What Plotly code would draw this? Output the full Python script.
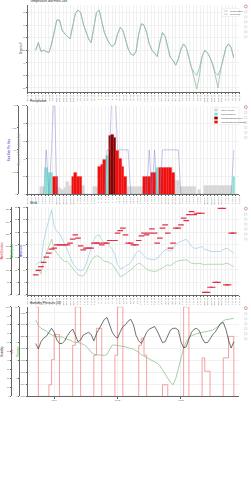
import plotly.graph_objects as go
import pandas as pd

W, H = 251, 500
START = pd.Timestamp("2024-10-07 18:00")
HOURS = list(range(9, 235, 3))

TEMP = [50,56,49,50,49,48,55,66,74,74, 66,63,61,59,69,79,82,80,71,65,
        59,56,68,80,82,74,64,59,55,53, 55,63,68,66,59,51,47,46,49,63,
        71,70,64,55,50,47,45,56,64,61, 52,44,42,38,43,51,55,52,44,36,
        32,30,36,45,50,48,44,39,32,30, 35,44,52,55,52,44]
FEELS = [50,56,49,50,49,48,55,66,74,74, 66,63,61,59,69,79,82,80,71,65,
         59,56,68,80,82,74,64,59,55,53, 55,63,68,66,59,51,47,46,49,63,
         71,70,64,55,50,47,45,56,64,61, 52,44,42,38,43,51,55,52,44,35,
         27,19,30,45,50,48,44,38,30,20, 34,44,52,55,52,44]

PRECIP_CHANCE = [0,0,9,9,30,24,24,20,20,8, 5,8,14,10,20,24,20,20,10,0,
                 0,0,9,9,31,34,39,44,66,67, 64,49,40,31,20,9,9,9,9,9,
                 9,20,20,20,24,24,30,30,30,30, 30,30,24,15,15,9,9,9,9,9,
                 9,0,5,0,10,10,10,10,10,10, 10,10,10,10,10,20]
PRECIP_TYPE = ["", "", "G","G","C","C","C","R","R","G",
               "G","G","G","G","R","R","R","R","G","",
               "", "", "G","G","R","R","R","C","D","D",
               "D","R","R","R","R","G","G","G","G","G",
               "G","R","R","R","R","R","C","R","R","R",
               "R","R","R","G","G","G","G","G","G","G",
               "G","", "G","", "G","G","G","G","G","G",
               "G","G","G","G","G","C"]
RAIN_RATE = [0,0,0,0,0.1,0,0.1,0.25,0,0, 0,0,0,0,0,0,0,0,0,0,
             0,0,0,0,0,0,0,0.1,0.1,0.25, 0.25,0.1,0.1,0.1,0.1,0.1,0,0,0,0,
             0,0,0,0.1,0,0.1,0,0,0.1,0.1, 0.1,0.1,0.1,0.1,0.1,0,0,0,0,0,
             0,0,0,0,0,0,0,0,0,0, 0,0,0,0,0,0.1]
TYPE_CODES = ["G", "C", "D", "R"]
TYPE_NAMES = ["Partly Cloudy", "Rain Showers", "Thunderstorms Likely", "Thunderstorms Possible"]
TYPE_COLORS = ["#d6d6d6", "#7fe3d2", "#8b0000", "#f01010"]

WIND_GUST = [12.0,12.9,12.9,21.3,26.0,30.6,33.9,27.3,25.3,24.6,
             22.6,20.0,18.0,15.3,12.6,11.3,10.0,9.7,10.0,12.0,
             15.3,19.3,22.0,23.6,24.0,22.0,20.6,20.6,19.6,18.2,
             16.0,12.0,10.6,10.6,11.6,12.0,12.9,15.0,16.6,17.7,
             16.9,15.6,14.6,14.2,14.2,14.0,14.6,15.6,16.6,18.0,
             18.0,17.3,18.6,20.0,20.9,21.3,21.7,22.2,20.9,19.3,
             18.6,18.6,19.0,19.3,18.0,18.0,17.3,17.3,17.3,17.3,
             17.3,18.0,18.6,18.2,17.3,16.6]
WIND_SPEED = [9.3,10.2,8.4,13.3,16.6,19.3,22.2,18.2,16.6,15.3,
              14.0,13.3,13.3,12.0,10.6,9.3,8.0,7.6,7.6,8.9,
              11.3,13.6,15.0,15.6,15.3,14.4,13.3,13.3,12.9,12.2,
              10.6,8.7,7.3,7.6,8.4,9.3,10.0,10.9,12.0,12.6,
              12.2,11.0,10.2,9.7,9.6,9.3,9.6,10.2,10.9,11.6,
              12.0,11.6,12.4,13.2,13.6,13.7,13.7,14.0,13.3,12.6,
              12.5,12.4,12.6,12.4,12.0,12.2,12.2,12.0,12.0,12.0,
              12.0,12.2,12.6,12.4,11.8,11.3]
WIND_DIR = [82,100,116,133,155,171,188,192,205,205,
            205,205,205,212,229,246,233,201,185,192,
            192,192,212,212,212,205,212,212,223,223,
            223,253,264,274,246,212,212,205,205,223,
            242,253,246,253,271,253,212,233,274,287,
            253,192,212,274,274,287,315,305,329,342,
            329,335,335,335,10,10,31,31,51,51,
            355,355,41,41,253,253]

HUMIDITY = [59,53,61,65,67,71.5,76,71.5,63,59,
            59,62,68,72,75,68.5,61,63,68.5,70,
            71.5,69,62,70,75,81.5,86,88,80,71.5,
            67,65,72,78,80,84,86,80,68,62,
            59,65.5,71.5,75,77,78,73,65.5,60,61,
            68.5,74,76,76,74,61,54,55.5,64,71.5,
            75,76,73,65,60,60,64,69,72,77,
            81.5,82.5,75,63,54,61]
PRESSURE = [1025.6,1023.7,1022.8,1022.3,1021.9,1021.1,1020.6,1020.2,1020.0,1020.0,
            1019.9,1019.4,1019.2,1018.8,1018.3,1018.0,1018.1,1017.8,1017.4,1016.9,
            1015.9,1014.8,1014.2,1013.9,1013.9,1013.8,1013.7,1014.1,1015.6,1017.2,
            1017.2,1017.1,1017.0,1016.8,1016.6,1016.3,1016.1,1015.8,1015.3,1014.8,
            1013.9,1013.4,1013.0,1012.4,1012.0,1011.6,1011.1,1010.3,1008.9,1007.2,
            1005.9,1004.7,1003.9,1005.9,1009.2,1012.8,1016.1,1018.3,1019.7,1020.3,
            1020.7,1021.0,1021.2,1021.4,1021.7,1021.7,1021.9,1022.2,1022.8,1023.3,
            1024.4,1025.3,1025.7,1025.9,1025.9,1026.1]
UV = [10,0,0,0,0,1.3,4.1,6.9,6.9,0,
      0,0,0,0,5.7,10,10,0,0,0,
      0,0,4.6,7.6,7.6,0,0,0,0,0,
      4.6,10,10,0,0,0,0,0,0,5.7,
      6.5,4.6,0,0,0,0,0,0,1.3,1.3,
      0,0,0,0,0,0,10,10,0,0,
      0,0,0,4.3,2.8,2.8,0,0,0,0,
      0,4.3,4.3,6.7,6.7,0]

times = [START + pd.Timedelta(hours=h) for h in HOURS]
x_range = [START, START + pd.Timedelta(hours=240)]
BAR_W = 3 * 3600 * 1000

def px(x):
    return x / W

def py(y):
    return 1 - y / H

PANELS = [(4, 91), (105, 194), (207, 295), (307, 397)]
XDOM = [px(27), px(240)]
FONT = "Liberation Sans"
GRID = "#f0f0f0"
AX = "#666"

fig = go.Figure()

# Panel 1: temperature
fig.add_trace(go.Scatter(x=times, y=TEMP, mode="lines", name="Temperature",
                         line=dict(color="#8fb3cf", width=0.8), xaxis="x", yaxis="y"))
fig.add_trace(go.Scatter(x=times, y=FEELS, mode="lines", name="Feels Like",
                         line=dict(color="#9cbf9c", width=0.8), xaxis="x", yaxis="y"))

# Panel 2: precipitation
for code, name, color in zip(TYPE_CODES, TYPE_NAMES, TYPE_COLORS):
    xs = [t for t, c in zip(times, PRECIP_TYPE) if c == code]
    ys = [v for v, c in zip(PRECIP_CHANCE, PRECIP_TYPE) if c == code]
    fig.add_trace(go.Bar(x=xs, y=ys, name=name, width=BAR_W,
                         marker=dict(color=color, line=dict(width=0.2, color=color)),
                         xaxis="x2", yaxis="y2"))
fig.add_trace(go.Scatter(x=times, y=RAIN_RATE, mode="lines", name="Rain Rate",
                         line=dict(color="rgba(120,120,200,0.6)", width=0.7),
                         xaxis="x2", yaxis="y3"))

# Panel 3: wind
fig.add_trace(go.Scatter(x=times, y=WIND_GUST, mode="lines", name="Gust",
                         line=dict(color="#a8d0e6", width=0.8), xaxis="x3", yaxis="y4"))
fig.add_trace(go.Scatter(x=times, y=WIND_SPEED, mode="lines", name="Speed",
                         line=dict(color="#a6cfa6", width=0.8), xaxis="x3", yaxis="y5"))
fig.add_trace(go.Scatter(x=times, y=WIND_DIR, mode="markers", name="Direction",
                         marker=dict(symbol="line-ew", size=4, line=dict(color="#e0304a", width=1.2)),
                         xaxis="x3", yaxis="y6"))

# Panel 4: humidity, pressure, UV
fig.add_trace(go.Scatter(x=times, y=PRESSURE, mode="lines", name="Pressure",
                         line=dict(color="#8cc48c", width=0.8), xaxis="x4", yaxis="y7"))
fig.add_trace(go.Scatter(x=times, y=UV, mode="lines", name="UV Index", line_shape="hv",
                         line=dict(color="#f08a8a", width=0.8), xaxis="x4", yaxis="y8"))
fig.add_trace(go.Scatter(x=times, y=HUMIDITY, mode="lines", name="Humidity",
                         line=dict(color="#333333", width=0.7), xaxis="x4", yaxis="y9"))

def xaxis(anchor, fmt, dtick, tick0, angle, match=None):
    d = dict(type="date", domain=XDOM, range=x_range, anchor=anchor,
             showgrid=True, gridcolor=GRID, gridwidth=0.5,
             showline=True, linecolor=AX, linewidth=0.5,
             ticks="outside", ticklen=1.5, tickwidth=0.4, tickcolor=AX,
             tickformat=fmt, dtick=dtick, tick0=tick0, tickangle=angle,
             tickfont=dict(size=2.2, family=FONT, color="#555"), zeroline=False)
    if match:
        d["matches"] = match
    return d

def yaxis(dom, rng, dtick, title, color, grid=True, pos=None, overlay=None, anchor=None):
    d = dict(domain=[py(dom[1]), py(dom[0])], range=rng, dtick=dtick,
             showgrid=grid, gridcolor=GRID, gridwidth=0.5, zeroline=False,
             showline=True, linecolor=AX, linewidth=0.5,
             ticks="outside", ticklen=1.2, tickwidth=0.4, tickcolor=AX,
             tickfont=dict(size=2.2, family=FONT, color="#555"),
             title=dict(text=title, font=dict(size=2.6, family=FONT, color=color), standoff=1))
    if pos is not None:
        d["anchor"] = "free"
        d["position"] = pos
        d["side"] = "left"
    else:
        d["anchor"] = anchor
    if overlay:
        d["overlaying"] = overlay
    return d

H4 = 4 * 3600 * 1000
fig.update_layout(
    xaxis=xaxis("y", "%a %H", H4, START, -90),
    xaxis2=xaxis("y2", "%a %H", H4, START, -90, "x"),
    xaxis3=xaxis("y4", "%a %H", H4, START, -90, "x"),
    xaxis4=xaxis("y7", "%m/%d", 3 * 86400000, "2024-10-09", 0, "x"),
    yaxis=yaxis(PANELS[0], [17, 86], 10, "Degrees F", "#444", anchor="x"),
    yaxis2=yaxis(PANELS[1], [0, 100], 20, "Chance of Precipitation (%)", "#999", anchor="x2"),
    yaxis3=yaxis(PANELS[1], [0, 0.2], 0.05, "Rain Rate Per Hour", "#3333cc", grid=False, pos=px(17), overlay="y2"),
    yaxis4=yaxis(PANELS[2], [0, 35], 5, "Wind Gust", "#3333cc", anchor="x3"),
    yaxis5=yaxis(PANELS[2], [0, 35], 5, "Wind Speed", "#22aa22", grid=False, pos=px(18), overlay="y4"),
    yaxis6=yaxis(PANELS[2], [0, 360], 50, "Wind Direction", "#dd2222", grid=False, pos=px(10), overlay="y4"),
    yaxis7=yaxis(PANELS[3], [1000, 1030], 4, "Pressure", "#22aa22", anchor="x4"),
    yaxis8=yaxis(PANELS[3], [0, 10], 2, "UV", "#dd2222", grid=False, pos=px(18), overlay="y7"),
    yaxis9=yaxis(PANELS[3], [0, 100], 10, "Humidity", "#222", grid=False, pos=px(10), overlay="y7"),
    width=W, height=H, margin=dict(l=0, r=0, t=0, b=0),
    paper_bgcolor="white", plot_bgcolor="white", showlegend=False,
    barmode="overlay", bargap=0,
    font=dict(family=FONT, size=3, color="#444"),
)

# panel titles
TITLES = ["Temperature and Feels Like", "Precipitation", "Wind", "Humidity, Pressure, UV"]
for (top, _), title in zip(PANELS, TITLES):
    fig.add_annotation(text=title, xref="paper", yref="paper", x=px(27), y=py(top - 0.2),
                       xanchor="left", yanchor="bottom", showarrow=False,
                       font=dict(size=3, family=FONT, color="#222"))

shapes = []
def legend_box(x0, y0, x1, y1):
    shapes.append(dict(type="rect", xref="paper", yref="paper", x0=px(x0), x1=px(x1),
                       y0=py(y1), y1=py(y0), fillcolor="white", line=dict(color="#e5e5e5", width=0.5)))

legend_box(223, 7.5, 240, 15.5)
for i, (nm, col) in enumerate([("Temperature", "#8fb3cf"), ("Feels Like", "#9cbf9c")]):
    yy = 10 + i * 3.3
    shapes.append(dict(type="line", xref="paper", yref="paper", x0=px(225), x1=px(228.5),
                       y0=py(yy), y1=py(yy), line=dict(color=col, width=0.7)))
    fig.add_annotation(text=nm, xref="paper", yref="paper", x=px(229.3), y=py(yy),
                       xanchor="left", yanchor="middle", showarrow=False,
                       font=dict(size=2.3, family=FONT, color="#444"))

legend_box(213, 107, 240, 124)
for i, (nm, col) in enumerate(zip(TYPE_NAMES, TYPE_COLORS)):
    yy = 109.5 + i * 4
    shapes.append(dict(type="rect", xref="paper", yref="paper", x0=px(215), x1=px(218.5),
                       y0=py(yy + 1.4), y1=py(yy - 1.4), fillcolor=col, line=dict(width=0)))
    fig.add_annotation(text=nm, xref="paper", yref="paper", x=px(219.3), y=py(yy),
                       xanchor="left", yanchor="middle", showarrow=False,
                       font=dict(size=2.3, family=FONT, color="#444"))

# toolbar decorations at the right of each panel
for top, _ in PANELS:
    shapes.append(dict(type="circle", xref="paper", yref="paper", x0=px(245.3), x1=px(248.3),
                       y0=py(top + 3), y1=py(top), fillcolor="rgba(0,0,0,0)",
                       line=dict(color="#c0604a", width=0.6)))
    for j in range(6):
        yy = top + 7 + j * 5
        shapes.append(dict(type="rect", xref="paper", yref="paper", x0=px(245.5), x1=px(248),
                           y0=py(yy + 1), y1=py(yy - 1), fillcolor="rgba(0,0,0,0)",
                           line=dict(color="#b8c4cc", width=0.4)))

fig.update_layout(shapes=shapes)
fig.write_html("out.html")
